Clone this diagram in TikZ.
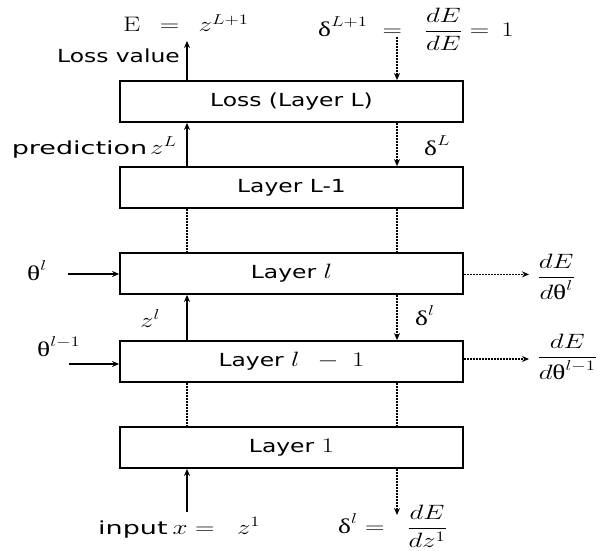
\documentclass[tikz,border=0pt]{standalone}
\usepackage{fontspec}
\usepackage{amsmath}
\usepackage{graphicx}
\setsansfont{DejaVu Sans}
\newfontfamily\grk{Liberation Serif}
\usetikzlibrary{arrows.meta}
\newcommand{\hs}[1]{\scalebox{1.3}[1]{#1}}
\newcommand{\hw}[1]{\scalebox{1.5}[1]{#1}}
\newcommand{\gd}{\mbox{\grk δ}}
\newcommand{\gt}{\mbox{\grk θ}}
\newcommand{\bm}[1]{{\fontsize{21}{25}\selectfont$#1$}}
\tikzset{
  layer/.style={draw, line width=1.8pt, minimum width=343pt, minimum height=41pt, inner sep=0pt, font=\fontsize{18}{21}\sffamily},
  lbl/.style={inner sep=0pt, font=\fontsize{18}{21}\sffamily},
  mlbl/.style={inner sep=0pt, font=\fontsize{21}{25}\selectfont},
  fwd/.style={line width=1.8pt, -{Stealth[length=7pt,width=6pt]}},
  fwdline/.style={line width=1.8pt},
  bwd/.style={line width=1.8pt, dash pattern=on 1.6pt off 1.4pt, -{Stealth[length=7pt,width=6pt]}},
  bwdline/.style={line width=1.8pt, dash pattern=on 1.6pt off 1.4pt},
}
\begin{document}
\begin{tikzpicture}[x=1pt,y=-1pt]
\useasboundingbox (0,0) rectangle (610,551);
% layers
\node[layer] (loss) at (291.5,101.5) {\hs{Loss (Layer L)}};
\node[layer] (lm) at (291.5,187.5) {\hs{Layer L-1}};
\node[layer] (ll) at (291.5,273.5) {\hs{Layer \bm{l}}};
\node[layer] (llm) at (291.5,361.5) {\hs{Layer \bm{l\;\,-\;1}}};
\node[layer] (l1) at (291.5,447.5) {\hs{Layer \bm{1}}};
% free ends
\coordinate (etop) at (187,41);
\coordinate (dtop) at (397,37);
\coordinate (inb) at (187,512);
\coordinate (dbot) at (397,515);
\coordinate (thl) at (68,274);
\coordinate (thlm) at (69,364);
\coordinate (gl) at (529,274.4);
\coordinate (glm) at (529,359);
% forward (solid) arrows
\draw[fwd] (loss.north -| etop) -- (etop);
\draw[fwd] (lm.north -| etop) -- (loss.south -| etop);
\draw[bwdline] (lm.south -| etop) -- (ll.north -| etop);
\draw[fwd] (llm.north -| etop) -- (ll.south -| etop);
\draw[bwdline] (llm.south -| etop) -- (l1.north -| etop);
\draw[fwd] (inb) -- (l1.south -| inb);
% backward (dotted) arrows
\draw[bwd] (dtop) -- (loss.north -| dtop);
\draw[bwd] (loss.south -| dtop) -- (lm.north -| dtop);
\draw[bwdline] (lm.south -| dtop) -- (ll.north -| dtop);
\draw[bwd] (ll.south -| dtop) -- (llm.north -| dtop);
\draw[bwdline] (llm.south -| dtop) -- (l1.north -| dtop);
\draw[bwd] (l1.south -| dtop) -- (dbot);
% parameters
\draw[fwd, line width=1.5pt] (thl) -- (thl -| ll.west);
\draw[fwd, line width=1.5pt] (thlm) -- (thlm -| llm.west);
\draw[bwd] (gl -| ll.east) -- (gl);
\draw[bwd] (glm -| llm.east) -- (glm);
% labels
\node[mlbl, anchor=base west] (tE) at (123,32) {\hs{$\mathrm{E}\;\,=\;\,z^{L+1}$}};
\node[mlbl, anchor=west] (tdL1) at (318,29) {\hs{$\gd^{L+1}\;=\;\;\dfrac{dE}{dE}=\,1$}};
\node[lbl, anchor=base east] (tloss) at (180,63) {\hs{Loss value}};
\node[lbl, anchor=base east] (tpred) at (177,154) {\hw{prediction}\,\hs{\bm{z^L}}};
\node[mlbl, anchor=base west] (tdL) at (424,155) {\hs{$\gd^{L}$}};
\node[mlbl, anchor=base west] (tthl) at (27,280) {\hs{$\gt^{l}$}};
\node[mlbl, anchor=base west] (tzl) at (140,327) {\hs{$z^{l}$}};
\node[mlbl, anchor=base west] (tdl) at (415,325) {\hs{$\gd^{l}$}};
\node[mlbl, anchor=base west] (tthlm) at (37,356) {\hs{$\gt^{l-1}$}};
\node[mlbl, anchor=west] (tg1) at (537,277) {\hs{$\dfrac{dE}{d\gt^{l}}$}};
\node[mlbl, anchor=west] (tg2) at (537,357) {\hs{$\dfrac{dE}{d\gt^{l-1}}$}};
\node[lbl, anchor=base west] (tin) at (98,534) {\hw{input}\hspace{5pt}\hs{\bm{x=\;\;z^1}}};
\node[mlbl, anchor=west] (tdb) at (338,526) {\hs{$\gd^{l}=\;\;\dfrac{dE}{dz^1}$}};
\end{tikzpicture}
\end{document}
